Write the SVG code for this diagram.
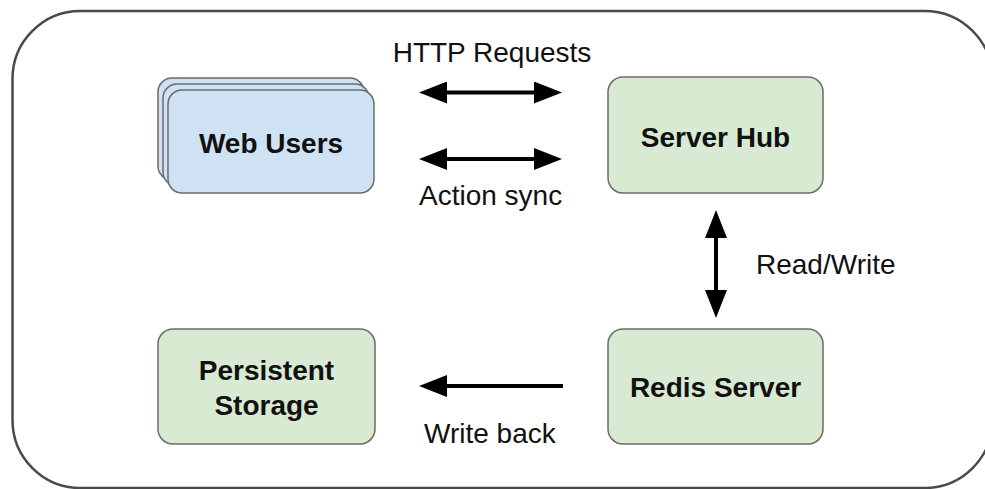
<svg xmlns="http://www.w3.org/2000/svg" width="985" height="489" viewBox="0 0 985 489">
  <defs>
    <style>
      .frame { fill: #ffffff; stroke: #4a4a4a; stroke-width: 2.5; }
      .blue { fill: #cfe2f3; stroke: #6b6b6b; stroke-width: 1.5; }
      .green { fill: #d9ead3; stroke: #6b6b6b; stroke-width: 1.5; }
      .lbl { font-family: "Liberation Sans", Arial, sans-serif; font-size: 28px; font-weight: bold; fill: #111111; text-anchor: middle; }
      .edge { font-family: "Liberation Sans", Arial, sans-serif; font-size: 28px; fill: #111111; }
      .conn { stroke: #000000; stroke-width: 4; fill: none; }
    </style>
    <marker id="ah" markerUnits="userSpaceOnUse" viewBox="0 0 28 22" markerWidth="28" markerHeight="22" refX="8" refY="11" orient="auto-start-reverse">
      <path d="M0,0 L28,11 L0,22 Z" fill="#000000"/>
    </marker>
  </defs>

  <rect class="frame" x="12.5" y="11" width="980" height="477" rx="68" ry="68"/>

  <g id="web-users">
    <rect class="blue" x="158" y="78" width="206" height="102" rx="14" ry="14"/>
    <rect class="blue" x="163" y="84" width="206" height="102" rx="14" ry="14"/>
    <rect class="blue" x="168" y="90" width="206" height="103" rx="14" ry="14"/>
    <text class="lbl" x="271" y="153">Web Users</text>
  </g>

  <g id="server-hub">
    <rect class="green" x="608" y="77" width="215" height="116" rx="15" ry="15"/>
    <text class="lbl" x="715.5" y="147">Server Hub</text>
  </g>

  <g id="redis-server">
    <rect class="green" x="608" y="329" width="215" height="115" rx="15" ry="15"/>
    <text class="lbl" x="715.5" y="397">Redis Server</text>
  </g>

  <g id="persistent-storage">
    <rect class="green" x="158" y="329" width="217" height="115" rx="15" ry="15"/>
    <text class="lbl" x="266.5" y="380">Persistent</text>
    <text class="lbl" x="266.5" y="415">Storage</text>
  </g>

  <g id="connectors">
    <line class="conn" x1="439" y1="92.5" x2="542" y2="92.5" marker-start="url(#ah)" marker-end="url(#ah)"/>
    <line class="conn" x1="439" y1="159" x2="542" y2="159" marker-start="url(#ah)" marker-end="url(#ah)"/>
    <line class="conn" x1="716" y1="230" x2="716" y2="298" marker-start="url(#ah)" marker-end="url(#ah)"/>
    <line class="conn" x1="563" y1="386" x2="439" y2="386" marker-end="url(#ah)"/>
    <text class="edge" x="492" y="62" text-anchor="middle">HTTP Requests</text>
    <text class="edge" x="419" y="205">Action sync</text>
    <text class="edge" x="756" y="274">Read/Write</text>
    <text class="edge" x="424" y="443">Write back</text>
  </g>
</svg>
